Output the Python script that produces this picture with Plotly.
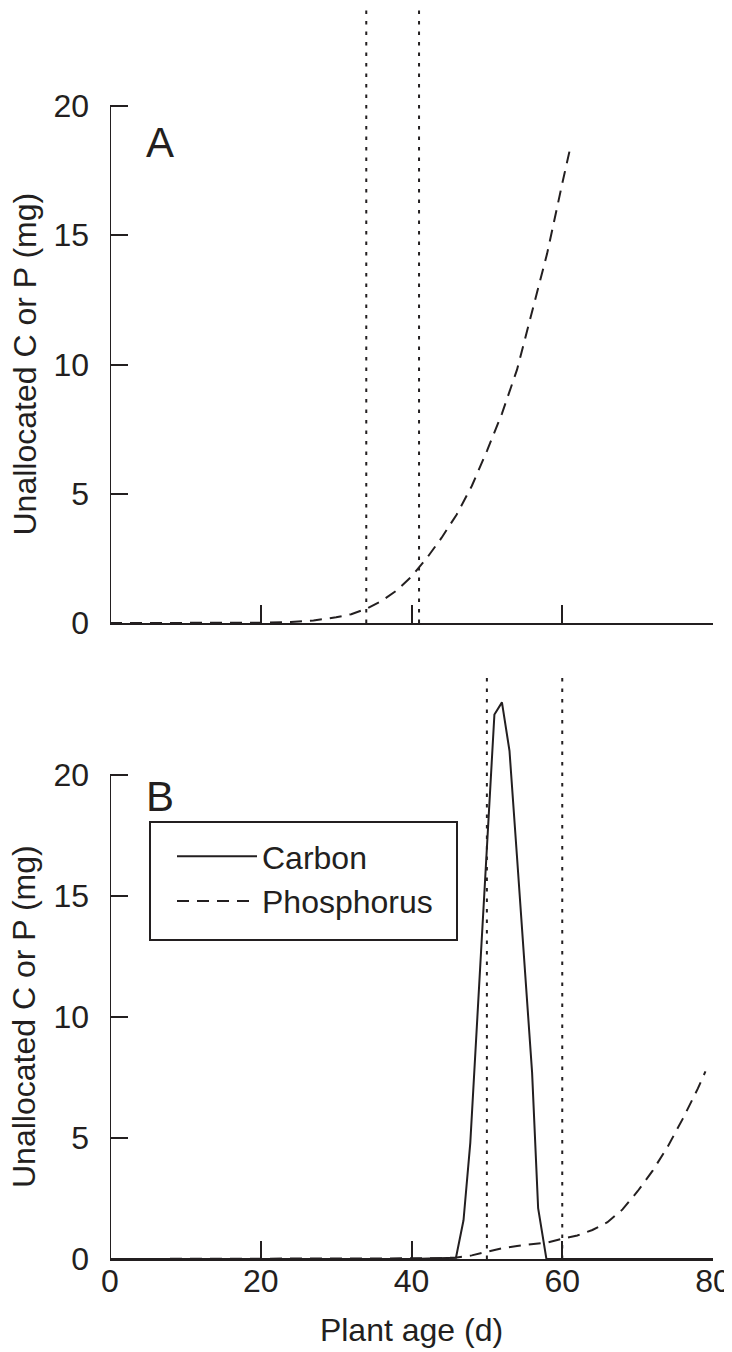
import plotly.graph_objects as go

# ---------------- data ----------------
# Panel A: phosphorus only
a_age = [0, 5, 10, 15, 20, 24, 27, 30, 32, 34, 36, 38, 40, 42, 44, 46, 48, 50, 52, 54, 56, 58, 60, 61]
a_phos = [0.0, 0.0, 0.0, 0.0, 0.01, 0.04, 0.1, 0.22, 0.34, 0.55, 0.85, 1.25, 1.8, 2.5, 3.3, 4.2, 5.3,
          6.65, 8.1, 9.8, 12.0, 14.3, 17.0, 18.3]
a_vlines = [34, 41]

# Panel B: carbon and phosphorus
b_c_age = [0, 20, 40, 45.9, 46.9, 47.8, 49.0, 50.0, 51.0, 52.0, 53.0, 54.0, 55.0, 56.0, 56.8, 57.9, 60, 70, 80]
b_carbon = [0, 0, 0, 0.05, 1.6, 4.8, 11.3, 16.8, 22.5, 23.0, 21.0, 16.6, 12.2, 7.7, 2.1, 0.0, 0, 0, 0]
b_p_age = [0, 10, 20, 30, 40, 44, 46, 48, 50, 52, 54, 56, 58, 60, 62, 64, 66, 68, 70, 72, 74, 76, 78, 79]
b_phos = [0.0, 0.0, 0.0, 0.0, 0.01, 0.03, 0.06, 0.15, 0.3, 0.44, 0.54, 0.62, 0.68, 0.84, 0.97, 1.2,
          1.52, 2.05, 2.8, 3.65, 4.65, 5.8, 7.05, 7.75]
b_vlines = [50, 60]

x_ticks = [0, 20, 40, 60, 80]
y_ticks = [0, 5, 10, 15, 20]
y_title = "Unallocated C or P (mg)"
x_title = "Plant age (d)"

# ---------------- style ----------------
W, H = 732, 1352
OFF = 8  # page body margin offset
FONT = "Liberation Sans, Arial, Helvetica, sans-serif"
INK = "#231f20"
DASH = "12px,8px"
DOT = "3.5px,7px"
FS = 32


def px(xr):
    return (xr - OFF) / W


def py(yr):
    return (H - (yr - OFF)) / H


fig = go.Figure()

# vertical dotted lines
for v in a_vlines:
    fig.add_trace(go.Scatter(x=[v, v], y=[0, 30], mode="lines", xaxis="x", yaxis="y",
                             line=dict(color=INK, width=2, dash=DOT), showlegend=False, hoverinfo="skip"))
for v in b_vlines:
    fig.add_trace(go.Scatter(x=[v, v], y=[0, 30], mode="lines", xaxis="x2", yaxis="y2",
                             line=dict(color=INK, width=2, dash=DOT), showlegend=False, hoverinfo="skip"))

fig.add_trace(go.Scatter(x=a_age, y=a_phos, mode="lines", xaxis="x", yaxis="y",
                         line=dict(color=INK, width=2, dash=DASH), showlegend=False))
fig.add_trace(go.Scatter(x=b_c_age, y=b_carbon, mode="lines", xaxis="x2", yaxis="y2", name="Carbon",
                         line=dict(color=INK, width=2)))
fig.add_trace(go.Scatter(x=b_p_age, y=b_phos, mode="lines", xaxis="x2", yaxis="y2", name="Phosphorus",
                         line=dict(color=INK, width=2, dash=DASH)))

xdom = [px(110), px(713)]
common_x = dict(range=[0, 80], showline=True, linecolor=INK, linewidth=2, ticks="inside", ticklen=18,
                tickwidth=2, tickcolor=INK, showgrid=False, zeroline=False, automargin=False,
                domain=xdom, tickfont=dict(family=FONT, size=FS, color=INK))
common_y = dict(showline=False, ticks="inside", ticklen=18, tickwidth=2, tickcolor=INK,
                showgrid=False, zeroline=False, automargin=False, tickvals=y_ticks,
                ticklabelstandoff=20,
                tickfont=dict(family=FONT, size=FS, color=INK))

a_bot = 623 - OFF
b_bot = 1259 - OFF
b_top = 677 - OFF
fig.update_layout(
    width=W, height=H,
    margin=dict(l=0, r=0, t=0, b=0),
    paper_bgcolor="white", plot_bgcolor="white",
    font=dict(family=FONT, size=FS, color=INK),
    xaxis=dict(common_x, anchor="y", tickvals=[20, 40, 60, 80], showticklabels=False),
    yaxis=dict(common_y, anchor="x", domain=[(H - a_bot) / H, 1.0], range=[0, a_bot / 25.85]),
    xaxis2=dict(common_x, anchor="y2", tickvals=x_ticks, ticklabelstandoff=-7,
                title=dict(text=x_title, font=dict(family=FONT, size=FS, color=INK), standoff=20)),
    yaxis2=dict(common_y, anchor="x2", domain=[(H - b_bot) / H, (H - b_top) / H],
                range=[0, (b_bot - b_top) / 24.2]),
    legend=dict(x=px(172), y=py(829), xanchor="left", yanchor="top",
                bgcolor="rgba(0,0,0,0)", borderwidth=0, itemwidth=80,
                font=dict(family=FONT, size=FS, color=INK)),
    showlegend=True,
)

# left axis lines (only up to 20)
fig.add_shape(type="line", xref="x", yref="y", x0=0, x1=0, y0=0, y1=20, line=dict(color=INK, width=2))
fig.add_shape(type="line", xref="x2", yref="y2", x0=0, x1=0, y0=0, y1=20, line=dict(color=INK, width=2))
# legend frame
fig.add_shape(type="rect", xref="paper", yref="paper", x0=px(150), x1=px(457),
              y0=py(940), y1=py(822), line=dict(color=INK, width=2))

# y-axis titles, centred on the 0-20 span of each axis
for yref in ("y", "y2"):
    fig.add_annotation(text=y_title, xref="paper", yref=yref, x=px(24), y=10, textangle=-90,
                       showarrow=False, xanchor="center", yanchor="middle", borderpad=0,
                       font=dict(family=FONT, size=FS, color=INK))

# panel letters
fig.add_annotation(text="A", xref="paper", yref="paper", x=px(160), y=py(142), showarrow=False,
                   xanchor="center", yanchor="middle", font=dict(family=FONT, size=42, color=INK))
fig.add_annotation(text="B", xref="paper", yref="paper", x=px(160), y=py(796), showarrow=False,
                   xanchor="center", yanchor="middle", font=dict(family=FONT, size=42, color=INK))

fig.write_html("out.html")
